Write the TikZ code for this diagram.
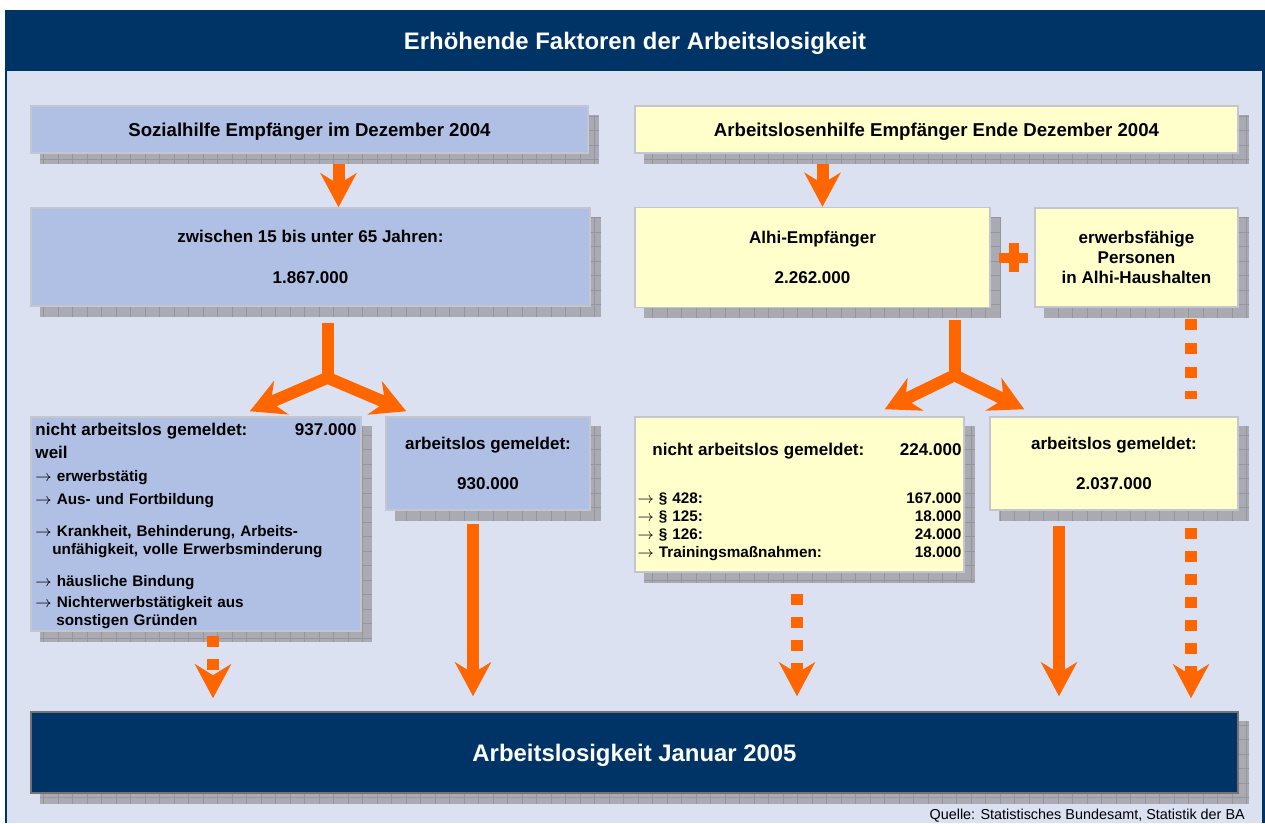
\documentclass[tikz,border=0pt]{standalone}
\usepackage{fontspec}
\setmainfont{Liberation Sans}
\usetikzlibrary{arrows.meta, calc}
\newdimen\pxu \pxu=0.02cm
\definecolor{cnavy}{HTML}{003366}
\definecolor{cpanel}{HTML}{DCE1F2}
\definecolor{cblue}{HTML}{B0BFE4}
\definecolor{cyellow}{HTML}{FFFFCC}
\definecolor{cborder}{HTML}{C3C6CF}
\definecolor{cshade}{HTML}{A9AAB2}
\definecolor{cgridl}{HTML}{94959D}
\definecolor{corange}{HTML}{FF6600}
\newcommand\fsbig{\fontsize{13.6}{16}\selectfont\bfseries}
\newcommand\fshead{\fontsize{10.6}{12.7}\selectfont\bfseries}
\newcommand\fsmid{\fontsize{9.7}{11.6}\selectfont\bfseries}
\newcommand\fssmall{\fontsize{8.7}{10.4}\selectfont\bfseries}
\newcommand\numfill{\hspace{0pt plus 1filll}}
\pgfdeclarelayer{panel}
\pgfdeclarelayer{shade}
\pgfsetlayers{panel,shade,main}
\tikzset{
  box/.style={draw=cborder, fill=#1, line width=1.5\pxu, align=center, inner sep=0pt, font=\fsmid},
  box/.default=cblue,
  arrow/.style={-{Stealth[length=0.68cm, width=0.72cm, inset=0.22cm]}, draw=corange, line width=0.24cm},
  stem/.style={draw=corange, line width=0.24cm},
  dots/.style={arrow, dash pattern=on 0.23cm off 0.23cm},
}

\begin{document}
\begin{tikzpicture}[x=0.02cm, y=-0.02cm]
  \useasboundingbox (0,0) rectangle (1265,823);
  \begin{pgfonlayer}{panel}
    \fill[cpanel] (5,71) rectangle (1265,823);
    \draw[cnavy, line width=2.5\pxu] (6,71) -- (6,823) (1263.5,71) -- (1263.5,823);
  \end{pgfonlayer}
  \node[fill=cnavy, text=white, font=\fsbig, text depth=0pt, minimum width=1260\pxu, minimum height=61\pxu, inner sep=0pt] (title) at (635,40.5) {Erhöhende Faktoren der Arbeitslosigkeit};

  % upper row
  \node[box, minimum width=557\pxu, minimum height=47\pxu, font=\fshead, text depth=0pt] (sh) at (309.5,129.5) {Sozialhilfe Empfänger im Dezember 2004};
  \node[box=cyellow, minimum width=603\pxu, minimum height=47\pxu, font=\fshead, text depth=0pt] (ah) at (936.5,129.5) {Arbeitslosenhilfe Empfänger Ende Dezember 2004};
  \node[box, minimum width=559\pxu, minimum height=98\pxu] (zw) at (310.5,257) {zwischen 15 bis unter 65 Jahren:\\[11.6pt]1.867.000};
  \node[box=cyellow, minimum width=355\pxu, minimum height=100\pxu] (alhi) at (812.5,257.5) {Alhi-Empfänger\\[11.6pt]2.262.000};
  \node[box=cyellow, minimum width=203\pxu, minimum height=99\pxu] (erw) at (1136.5,257.5) {erwerbsfähige\\Personen\\in Alhi-Haushalten};

  % lower row
  \node[box, minimum width=330\pxu, minimum height=214\pxu, text width=321\pxu, inner xsep=4.5\pxu, align=left, font=\fssmall] (nal) at (196,524) {%
    \rule{0pt}{9.5pt}{\fsmid nicht arbeitslos gemeldet:\numfill 937.000}\\[2.3pt]
    {\fsmid weil}\\[2.8pt]
    $\rightarrow$ erwerbstätig\\[2.8pt]
    $\rightarrow$ Aus- und Fortbildung\\[7.9pt]
    $\rightarrow$ Krankheit, Behinderung, Arbeits-\\
    \hspace*{9.6pt}unfähigkeit, volle Erwerbsminderung\\[7.4pt]
    $\rightarrow$ häusliche Bindung\\[1.7pt]
    $\rightarrow$ Nichterwerbstätigkeit aus\\
    \hspace*{11.9pt}sonstigen Gründen};
  \node[box, minimum width=204\pxu, minimum height=93\pxu] (al) at (488,463.5) {arbeitslos gemeldet:\\[11.6pt]930.000};
  \node[box=cyellow, minimum width=329\pxu, minimum height=155\pxu, text width=324\pxu, inner xsep=2.5\pxu, align=left, font=\fssmall] (nar) at (799.5,494.5) {%
    \rule{0pt}{16pt}\hspace*{8.5pt}{\fsmid nicht arbeitslos gemeldet:\numfill 224.000}\\[16.5pt]
    $\rightarrow$ § 428:\numfill 167.000\\
    $\rightarrow$ § 125:\numfill 18.000\\
    $\rightarrow$ § 126:\numfill 24.000\\
    $\rightarrow$ Trainingsmaßnahmen:\numfill 18.000};
  \node[box=cyellow, minimum width=248\pxu, minimum height=93\pxu] (ar) at (1114,463.5) {arbeitslos gemeldet:\\[11.6pt]2.037.000};
  \node[box=cnavy, draw=black!55, text=white, font=\fsbig, text depth=0pt, minimum width=1207\pxu, minimum height=81\pxu] (jan) at (634.5,752.5) {Arbeitslosigkeit Januar 2005};
  \node[anchor=base east, font=\fontsize{8.2}{10}\selectfont] (src) at (1251,819.5) {Quelle: Statistisches Bundesamt, Statistik der BA};

  % shadows
  \begin{pgfonlayer}{shade}
    \foreach \b in {sh,ah,zw,alhi,erw,nal,al,nar,ar,jan} {
      \fill[cshade] ($(\b.north west)+(10,10)$) rectangle ($(\b.south east)+(10,10)$);
      \draw[cgridl, line width=0.6\pxu, step=0.29cm] ($(\b.north west)+(10,10)$) grid ($(\b.south east)+(10,10)$);
    }
  \end{pgfonlayer}

  % arrows
  \draw[arrow] ($(sh.south -| zw.north)+(28,10)$) -- ($(zw.north)+(28,0)$);
  \draw[arrow] ($(ah.south -| alhi.north)+(10,10)$) -- ($(alhi.north)+(10,0)$);

  \coordinate (fkl) at ($(zw.south)+(17,71)$);
  \draw[stem] ($(zw.south)+(17,16)$) -- ($(fkl)+(0,6)$);
  \draw[arrow] (fkl) -- ($(nal.north east)+(-112,-5)$);
  \draw[arrow] (fkl) -- ($(al.north west)+(21,-5)$);

  \coordinate (fkr) at ($(alhi.south)+(142,67)$);
  \draw[stem] ($(alhi.south)+(142,12)$) -- ($(fkr)+(0,6)$);
  \draw[arrow] (fkr) -- ($(nar.north east)+(-80,-7)$);
  \draw[arrow] (fkr) -- ($(ar.north west)+(35,-7)$);

  \path (alhi.east) -- (erw.west) coordinate[pos=0.53] (plus);
  \draw[stem, line width=0.2cm] ($(plus)+(-14.5,0)$) -- ($(plus)+(14.5,0)$) ($(plus)+(0,-14.5)$) -- ($(plus)+(0,14.5)$);
  \draw[stem, dash pattern=on 0.23cm off 0.25cm] ($(erw.south)+(54.5,11)$) -- ($(ar.north -| erw.south)+(54.5,-17)$);

  \draw[dots] ($(nal.south)+(17,4)$) -- ($(jan.north -| nal.south)+(17,-13)$);
  \draw[arrow] ($(al.south)+(-15,13)$) -- ($(jan.north -| al.south)+(-15,-15)$);
  \draw[dots] ($(nar.south)+(-2.5,21)$) -- ($(jan.north -| nar.south)+(-2.5,-15)$);
  \draw[arrow] ($(ar.south)+(-55,15)$) -- ($(jan.north -| ar.south)+(-55,-15)$);
  \draw[dots] ($(ar.south)+(77,17)$) -- ($(jan.north -| ar.south)+(77,-13)$);
\end{tikzpicture}
\end{document}
